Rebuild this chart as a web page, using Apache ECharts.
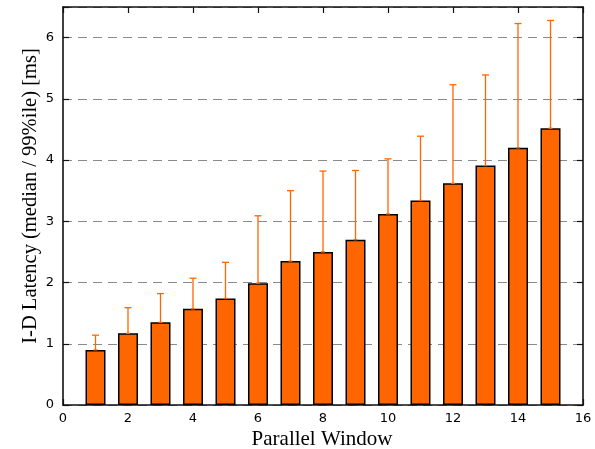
<!DOCTYPE html>
<html>
<head>
<meta charset="utf-8">
<script src="https://cdn.jsdelivr.net/npm/echarts@6/dist/echarts.min.js"></script>
<style>html,body{margin:0;padding:0;background:#fff;}#c{width:595px;height:449px;}</style>
</head>
<body>
<div id="c"></div>
<script>
const windows = [1,2,3,4,5,6,7,8,9,10,11,12,13,14,15];
const median = [0.90,1.17,1.35,1.57,1.74,1.99,2.35,2.50,2.70,3.12,3.34,3.62,3.91,4.20,4.52];
const p99 = [1.14,1.59,1.82,2.07,2.33,3.09,3.50,3.82,3.83,4.02,4.39,5.23,5.39,6.23,6.28];
const xTicks = [0,2,4,6,8,10,12,14,16];
const yTicks = [0,1,2,3,4,5,6];
const xTitle = 'Parallel Window';
const yTitle = 'I-D Latency (median / 99%ile) [ms]';

const chart = echarts.init(document.getElementById('c'), null, {renderer:'canvas'});
const barData = windows.map((w,i)=>[w, median[i]]);
const errData = windows.map((w,i)=>[w, median[i], p99[i]]);
const tickFont = {fontFamily:'DejaVu Sans', fontSize:13, color:'#000'};
const axisLine = {show:true, onZero:false, lineStyle:{color:'#111', width:1.6}};
const axisTick = {show:true, inside:true, length:6, lineStyle:{color:'#111', width:1.2}};

chart.setOption({
  animation:false,
  grid:{left:63, right:12, top:7, bottom:44, containLabel:false},
  xAxis:[{
    type:'value', min:0, max:16, interval:2, position:'bottom',
    axisLine:axisLine, axisTick:axisTick,
    axisLabel:Object.assign({margin:7, formatter:v=>xTicks.includes(v)?String(v):''}, tickFont),
    splitLine:{show:false}
  },{
    type:'value', min:0, max:16, interval:2, position:'top',
    axisLine:axisLine, axisTick:axisTick, axisLabel:{show:false}, splitLine:{show:false}
  }],
  yAxis:[{
    type:'value', min:0, max:6.5, interval:1, position:'left',
    axisLine:axisLine, axisTick:axisTick,
    axisLabel:Object.assign({margin:9, formatter:v=>yTicks.includes(v)?String(v):''}, tickFont),
    splitLine:{show:true, lineStyle:{color:'#8a8a8a', type:[9,6], width:1}}
  },{
    type:'value', min:0, max:6.5, interval:1, position:'right',
    axisLine:axisLine, axisTick:axisTick, axisLabel:{show:false}, splitLine:{show:false}
  }],
  graphic:[
    {type:'text', x:322, y:439,
     style:{text:xTitle, font:'21px "Liberation Serif"', fill:'#000', align:'center', verticalAlign:'middle'}},
    {type:'text', x:31, y:196, rotation:Math.PI/2,
     style:{text:yTitle, font:'20.5px "Liberation Serif"', fill:'#000', align:'center', verticalAlign:'middle'}}
  ],
  series:[{
    type:'bar', data:barData, barWidth:20, xAxisIndex:0, yAxisIndex:0,
    itemStyle:{color:'#FF6600', borderColor:'#000', borderWidth:1.5},
    z:2
  },{
    type:'custom', data:errData, xAxisIndex:0, yAxisIndex:0, z:3,
    renderItem:function(params, api){
      const x = api.value(0);
      const lo = api.coord([x, api.value(1)]);
      const hi = api.coord([x, api.value(2)]);
      const hw = 3.5;
      const st = {stroke:'#FF6600', lineWidth:1.3};
      return {type:'group', children:[
        {type:'line', shape:{x1:lo[0], y1:lo[1], x2:hi[0], y2:hi[1]}, style:st},
        {type:'line', shape:{x1:hi[0]-hw, y1:hi[1], x2:hi[0]+hw, y2:hi[1]}, style:st},
        {type:'line', shape:{x1:lo[0]-2, y1:lo[1], x2:lo[0]+2, y2:lo[1]}, style:st}
      ]};
    }
  }]
});
</script>
</body>
</html>
